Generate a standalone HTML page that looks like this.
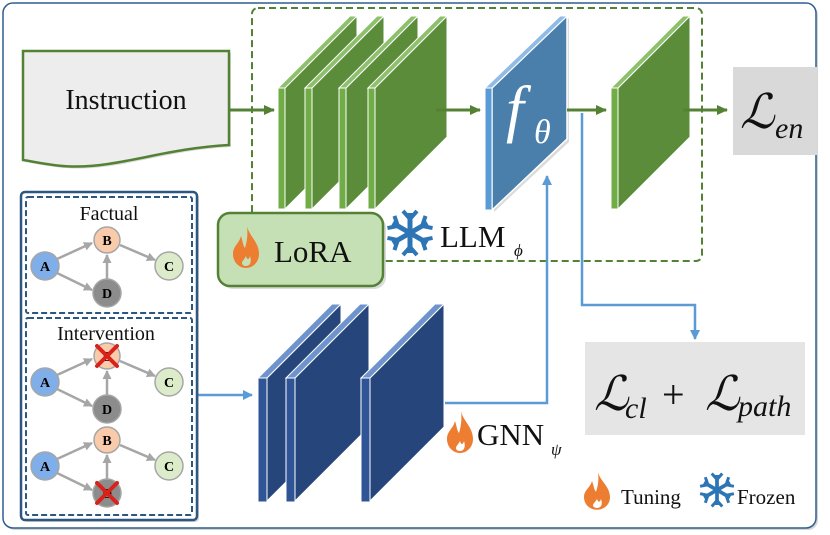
<!DOCTYPE html>
<html><head><meta charset="utf-8"><style>
html,body{margin:0;padding:0;background:#fff;}
svg{display:block;}
text{font-family:"Liberation Serif",serif;}
</style></head><body>
<svg width="830" height="535" viewBox="0 0 830 535" xmlns="http://www.w3.org/2000/svg">
<defs>
<marker id="ag" markerWidth="11" markerHeight="10" refX="10" refY="5" orient="auto" markerUnits="userSpaceOnUse"><path d="M0,0 L11,5 L0,10 Z" fill="#548235"/></marker>
<marker id="ab" markerWidth="10" markerHeight="10" refX="9" refY="5" orient="auto" markerUnits="userSpaceOnUse"><path d="M0,0 L10,5 L0,10 Z" fill="#5b9bd5"/></marker>
<marker id="ar" markerWidth="9" markerHeight="9" refX="8" refY="4.5" orient="auto" markerUnits="userSpaceOnUse"><path d="M0,0 L9,4.5 L0,9 Z" fill="#a6a6a6"/></marker>
<g id="flame"><path d="M14,0 C16,10 26,16 26,28 C26,36 20,42 13,42 C6,42 0,36 0,28 C0,20 6,18 8,10 C10,16 10,20 12,22 C14,16 15,8 14,0 Z M13,40 C17,40 19,36 17,30 C16,34 14,34 13,30 C11,34 9,35 9,37 C9,39 11,40 13,40 Z" fill="#ed7d31" fill-rule="evenodd"/></g>
<g id="snow" stroke="#2e75b6" stroke-width="5" stroke-linecap="butt" fill="none">
<g id="arm"><line x1="0" y1="0" x2="0" y2="-20"/><polyline points="-7,-22 0,-14 7,-22" stroke-width="4"/></g>
<use href="#arm" transform="rotate(60)"/><use href="#arm" transform="rotate(120)"/><use href="#arm" transform="rotate(180)"/><use href="#arm" transform="rotate(240)"/><use href="#arm" transform="rotate(300)"/>
</g>
</defs>

<!-- outer box -->
<rect x="5" y="5" width="813" height="525" rx="10" fill="#888" opacity="0.35"/>
<rect x="3" y="3" width="813" height="525" rx="10" fill="#fff" stroke="#2f5f8f" stroke-width="1.5"/>

<!-- green dashed box -->
<rect x="252" y="8" width="450" height="253" rx="6" fill="none" stroke="#548235" stroke-width="2" stroke-dasharray="7,4"/>

<!-- Instruction -->
<path d="M25,53 H231 V147 C180,150 150,160 110,166 C70,172 50,166 25,162 Z" fill="#888" opacity="0.3"/>
<path d="M23,51 H229 V145 C178,148 148,158 108,164 C68,170 48,164 23,160 Z" fill="#ededed" stroke="#548235" stroke-width="2.5"/>
<text x="126" y="109" font-size="28" text-anchor="middle" fill="#111">Instruction</text>
<line x1="229" y1="110" x2="274" y2="110" stroke="#548235" stroke-width="3" marker-end="url(#ag)"/>

<!-- green layers -->
<g>
<g id="gl"><polygon points="285,88 357,16 357,137 285,209" fill="#5b8c3a" stroke="#fff" stroke-width="1"/><polygon points="278,88 285,88 357,16 350,16" fill="#8dc06a" stroke="#fff" stroke-width="1"/><rect x="278" y="88" width="7" height="121" fill="#70ad47" stroke="#fff" stroke-width="1"/></g>
<use href="#gl" transform="translate(27,0)"/>
<use href="#gl" transform="translate(61,0)"/>
<use href="#gl" transform="translate(90,0)"/>
</g>
<line x1="436" y1="110" x2="480" y2="110" stroke="#548235" stroke-width="3" marker-end="url(#ag)"/>

<!-- f theta -->
<polygon points="494,90 569,18 569,142 494,212" fill="#999" opacity="0.35"/>
<polygon points="492,88 567,16 567,139 492,210" fill="#4a7eab" stroke="#fff" stroke-width="1.5"/>
<polygon points="485,88 492,88 567,16 560,16" fill="#8fbbe6" stroke="#fff" stroke-width="1"/>
<rect x="485" y="88" width="7" height="122" fill="#5b9bd5" stroke="#fff" stroke-width="1"/>
<text x="506" y="130" font-size="64" font-style="italic" fill="#fff">f</text>
<text x="534" y="143" font-size="34" font-style="italic" fill="#fff">θ</text>

<line x1="567" y1="110" x2="606" y2="110" stroke="#548235" stroke-width="3" marker-end="url(#ag)"/>
<use href="#gl" transform="translate(333,0)"/>
<line x1="683" y1="110" x2="727" y2="110" stroke="#548235" stroke-width="3" marker-end="url(#ag)"/>

<!-- L_en -->
<rect x="733" y="67" width="84" height="88" fill="#d9d9d9"/>
<text x="740" y="128" font-size="48" font-style="italic" fill="#111">ℒ</text>
<text x="775" y="138" font-size="30" font-style="italic" fill="#111">en</text>

<!-- LoRA -->
<rect x="221" y="216" width="165" height="73" rx="12" fill="#888" opacity="0.3"/>
<rect x="218" y="213" width="165" height="73" rx="12" fill="#c5e0b4" stroke="#548235" stroke-width="2.5"/>
<use href="#flame" transform="translate(233,226)"/>
<text x="274" y="262" font-size="31" fill="#111">LoRA</text>

<!-- LLM -->
<use href="#snow" transform="translate(410,233)"/>
<text x="440" y="247" font-size="31" fill="#111">LLM</text>
<text x="514" y="256" font-size="17" font-style="italic" fill="#111">ϕ</text>

<!-- blue connectors -->
<polyline points="445,403 547,403 547,176" fill="none" stroke="#5b9bd5" stroke-width="2.5" marker-end="url(#ab)"/>
<polyline points="582,113 582,305 695,305 695,339" fill="none" stroke="#5b9bd5" stroke-width="2.5" marker-end="url(#ab)"/>
<line x1="197" y1="395" x2="252" y2="395" stroke="#5b9bd5" stroke-width="2.5" marker-end="url(#ab)"/>

<!-- GNN layers -->
<g id="bl"><polygon points="267,378 341,304 341,427 267,501" fill="#26457a" stroke="#fff" stroke-width="1"/><polygon points="258,378 267,378 341,304 332,304" fill="#6f93cc" stroke="#fff" stroke-width="1"/><rect x="258" y="378" width="9" height="124" fill="#2f5597" stroke="#fff" stroke-width="1"/></g>
<use href="#bl" transform="translate(28,0)"/>
<use href="#bl" transform="translate(103,0)"/>
<use href="#flame" transform="translate(447,411)"/>
<text x="477" y="445" font-size="31" fill="#111">GNN</text>
<text x="551" y="455" font-size="17" font-style="italic" fill="#111">ψ</text>

<!-- L_cl + L_path -->
<rect x="585" y="342" width="220" height="93" fill="#e5e5e5"/>
<text x="594" y="410" font-size="48" font-style="italic" fill="#111">ℒ</text>
<text x="625" y="418" font-size="30" font-style="italic" fill="#111">cl</text>
<text x="662" y="408" font-size="40" fill="#111">+</text>
<text x="705" y="410" font-size="48" font-style="italic" fill="#111">ℒ</text>
<text x="738" y="416" font-size="30" font-style="italic" fill="#111">path</text>

<!-- legend -->
<use href="#flame" transform="translate(584,472) scale(1,0.9)"/>
<text x="621" y="504" font-size="21" fill="#111">Tuning</text>
<use href="#snow" transform="translate(717,490) scale(0.75)"/>
<text x="737" y="504" font-size="21" fill="#111">Frozen</text>

<!-- graph panel -->
<rect x="23" y="194" width="176" height="328" rx="4" fill="#888" opacity="0.35"/>
<rect x="21" y="192" width="176" height="328" rx="4" fill="#fff" stroke="#2c5780" stroke-width="2.5"/>
<rect x="26" y="197" width="166" height="116" rx="2" fill="none" stroke="#2c5780" stroke-width="2" stroke-dasharray="6,3"/>
<rect x="26" y="318" width="166" height="197" rx="2" fill="none" stroke="#2c5780" stroke-width="2" stroke-dasharray="6,3"/>
<text x="109" y="220" font-size="20" text-anchor="middle" fill="#111">Factual</text>
<text x="106" y="340" font-size="20" text-anchor="middle" fill="#111">Intervention</text>

<g id="gr" font-size="14" font-weight="bold" text-anchor="middle">
<line x1="57" y1="259" x2="92" y2="243" stroke="#a6a6a6" stroke-width="2.5" marker-end="url(#ar)"/>
<line x1="57" y1="273" x2="92" y2="290" stroke="#a6a6a6" stroke-width="2.5" marker-end="url(#ar)"/>
<line x1="120" y1="245" x2="155" y2="260" stroke="#a6a6a6" stroke-width="2.5" marker-end="url(#ar)"/>
<line x1="107" y1="280" x2="107" y2="255" stroke="#a6a6a6" stroke-width="2.5" marker-end="url(#ar)"/>
<circle cx="45" cy="266" r="14" fill="#7faee8" stroke="#a6a6a6" stroke-width="1.5"/>
<circle cx="107" cy="240" r="13" fill="#f9cbaa" stroke="#a6a6a6" stroke-width="1.5"/>
<circle cx="169" cy="266" r="14" fill="#dcebc9" stroke="#a6a6a6" stroke-width="1.5"/>
<circle cx="107" cy="293" r="14" fill="#8c8c8c" stroke="#a6a6a6" stroke-width="1.5"/>
<text x="45" y="271">A</text><text x="107" y="245">B</text><text x="169" y="271">C</text><text x="107" y="298">D</text>
</g>
<use href="#gr" transform="translate(0,116)"/>
<use href="#gr" transform="translate(0,200)"/>
<g stroke="#d9221a" stroke-width="4" stroke-linecap="round">
<line x1="97" y1="346" x2="117" y2="366"/><line x1="117" y1="346" x2="97" y2="366"/>
<line x1="97" y1="483" x2="117" y2="503"/><line x1="117" y1="483" x2="97" y2="503"/>
</g>
</svg>
</body></html>
